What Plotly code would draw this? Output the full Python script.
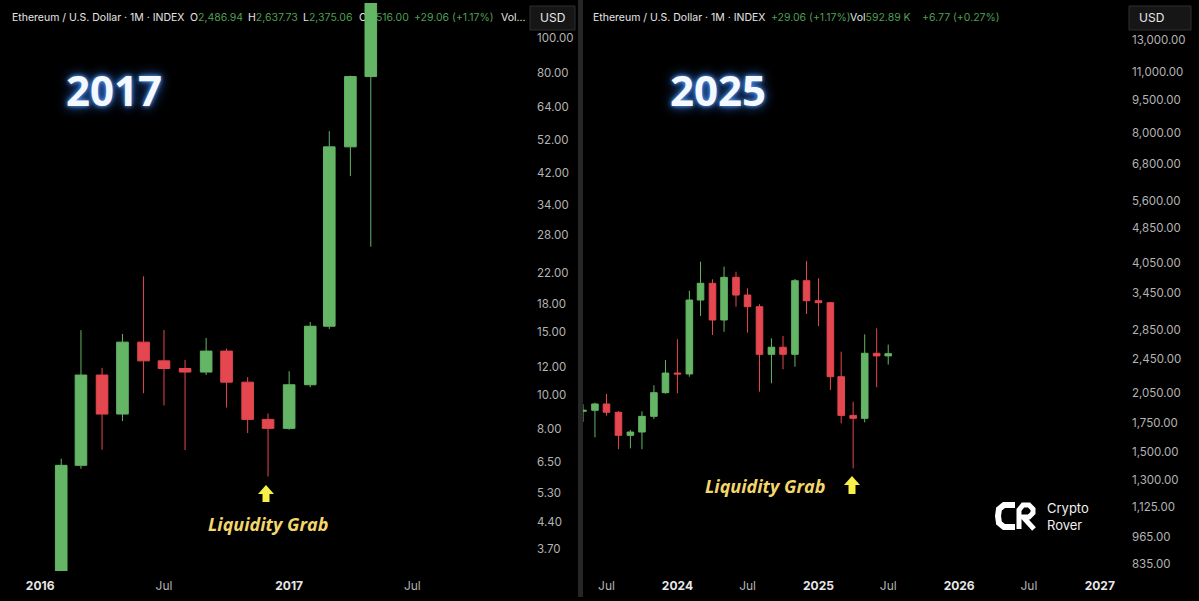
import plotly.graph_objects as go

W, H = 1199, 601

# ---------------- data: 2016-2017 panel (monthly ETH/USD) ----------------
left_dates = ["2016-02-01", "2016-03-01", "2016-04-01", "2016-05-01", "2016-06-01",
              "2016-07-01", "2016-08-01", "2016-09-01", "2016-10-01", "2016-11-01",
              "2016-12-01", "2017-01-01", "2017-02-01", "2017-03-01", "2017-04-01",
              "2017-05-01"]
left_open = [2.20, 6.34, 11.36, 8.83, 14.05, 12.45, 11.85, 11.58, 13.26, 10.85,
             8.53, 8.05, 10.67, 15.57, 49.6, 78.1]
left_high = [6.62, 15.18, 11.90, 14.82, 21.5, 15.2, 12.53, 14.44, 13.48, 11.21,
             8.86, 11.65, 16.01, 54.9, 78.6, 230.0]
left_low = [2.10, 6.20, 7.01, 8.44, 10.1, 9.33, 7.00, 11.36, 9.21, 7.81,
            5.90, 7.98, 10.5, 15.3, 41.06, 26.03]
left_close = [6.34, 11.36, 8.83, 14.05, 12.45, 11.85, 11.58, 13.26, 10.85, 8.53,
              8.05, 10.67, 15.57, 49.6, 78.1, 230.0]
left_ticks = [3.7, 4.4, 5.3, 6.5, 8, 10, 12, 15, 18, 22, 28, 34, 42, 52, 64, 80, 100]
left_xticks = ["2016-01-01", "2016-07-01", "2017-01-01", "2017-07-01"]
left_xlabels = ["2016", "Jul", "2017", "Jul"]

# ---------------- data: 2023-2025 panel (monthly ETH/USD) ----------------
right_dates = ["2023-05-01", "2023-06-01", "2023-07-01", "2023-08-01", "2023-09-01",
               "2023-10-01", "2023-11-01", "2023-12-01", "2024-01-01", "2024-02-01",
               "2024-03-01", "2024-04-01", "2024-05-01", "2024-06-01", "2024-07-01",
               "2024-08-01", "2024-09-01", "2024-10-01", "2024-11-01", "2024-12-01",
               "2025-01-01", "2025-02-01", "2025-03-01", "2025-04-01", "2025-05-01",
               "2025-06-01", "2025-07-01"]
right_open = [1860, 1870, 1933, 1851, 1640, 1669, 1812, 2051, 2273, 2262,
              3332, 3637, 3001, 3753, 3420, 3218, 2507, 2602, 2507, 3687,
              3320, 3286, 2230, 1821, 1793, 2521, 2486.94]
right_high = [1930, 1946, 2037, 1862, 1687, 1860, 2132, 2434, 2713, 3499,
              4073, 3714, 3967, 3864, 3543, 3260, 2727, 2760, 3720, 4089,
              3734, 3300, 2542, 1956, 2784, 2873, 2637.73]
right_low = [1760, 1623, 1818, 1525, 1532, 1525, 1786, 2040, 2044, 2230,
             3065, 2774, 2822, 3218, 2808, 2062, 2154, 2318, 2350, 3097,
             2908, 2080, 1747, 1380, 1756, 2110, 2375.06]
right_close = [1870, 1933, 1851, 1640, 1669, 1812, 2051, 2273, 2262, 3332,
               3637, 3001, 3753, 3420, 3218, 2507, 2602, 2507, 3687, 3320,
               3286, 2230, 1821, 1793, 2521, 2486.94, 2516.00]
right_ticks = [835, 965, 1125, 1300, 1500, 1750, 2050, 2450, 2850, 3450, 4050,
               4850, 5600, 6800, 8000, 9500, 11000, 13000]
right_xticks = ["2023-07-01", "2024-01-01", "2024-07-01", "2025-01-01", "2025-07-01",
                "2026-01-01", "2026-07-01", "2027-01-01"]
right_xlabels = ["Jul", "2024", "Jul", "2025", "Jul", "2026", "Jul", "2027"]

GREEN = "#64b565"
RED = "#e4474f"
HDR_GREEN = "#4f9f52"
AXIS_TXT = "#b4b4b4"
FONT = "Inter"


def px(x):
    return x / W


def py(y):
    return 1 - y / H


def xlabel(t):
    if t.isdigit():
        return "<span style='color:#e8e8e8'><b>%s</b></span>" % t
    return t


fig = go.Figure()
for dates, o, h, l, c, xa, ya in [
    (left_dates, left_open, left_high, left_low, left_close, "x", "y"),
    (right_dates, right_open, right_high, right_low, right_close, "x2", "y2"),
]:
    fig.add_trace(go.Candlestick(
        x=dates, open=o, high=h, low=l, close=c, xaxis=xa, yaxis=ya,
        increasing=dict(line=dict(color=GREEN, width=1), fillcolor=GREEN),
        decreasing=dict(line=dict(color=RED, width=1), fillcolor=RED),
        whiskerwidth=0, showlegend=False, hoverinfo="skip",
    ))

top, bot = 3, 571
ydom = [py(bot), py(top)]

axis_common = dict(showgrid=False, zeroline=False, showline=False, ticks="",
                   fixedrange=True)
ytick_font = dict(family=FONT, size=11.5, color=AXIS_TXT)
xtick_font = dict(family=FONT, size=12, color=AXIS_TXT)

fig.update_layout(
    width=W, height=H,
    margin=dict(l=0, r=0, t=0, b=0),
    paper_bgcolor="#000000", plot_bgcolor="rgba(0,0,0,0)",
    boxgap=0.13,
    font=dict(family=FONT, color="#d8d8d8"),
    xaxis=dict(domain=[0, px(530)], type="date",
               range=["2015-11-03", "2017-12-21"],
               tickvals=left_xticks, ticktext=[xlabel(t) for t in left_xlabels],
               tickfont=xtick_font, ticklabelstandoff=6,
               rangeslider=dict(visible=False), anchor="y", **axis_common),
    yaxis=dict(domain=ydom, type="log", side="right", anchor="x",
               range=[0.5057, 2.099], tickvals=left_ticks,
               ticktext=["%.2f" % v for v in left_ticks], ticklabelstandoff=6,
               tickfont=ytick_font, **axis_common),
    xaxis2=dict(domain=[px(583), px(1126)], type="date",
                range=["2023-05-01", "2027-03-10"],
                tickvals=right_xticks, ticktext=[xlabel(t) for t in right_xlabels],
                tickfont=xtick_font, ticklabelstandoff=6,
                rangeslider=dict(visible=False), anchor="y2", **axis_common),
    yaxis2=dict(domain=ydom, type="log", side="right", anchor="x2",
                range=[2.9063, 4.1984], tickvals=right_ticks,
                ticktext=["{:,.2f}".format(v) for v in right_ticks], ticklabelstandoff=5,
                tickfont=ytick_font, **axis_common),
)

shapes = []
annotations = []

WHITE_HDR = "#e6e6e6"
g = lambda s: "<span style='color:%s'>%s</span>" % (HDR_GREEN, s)
HDR_FONT = dict(family=FONT, size=10.5, color=WHITE_HDR)

# header segments (drawn below the candles, as in the reference)
left_header = [(9, "Ethereum / U.S. Dollar · 1M · INDEX"),
               (187, "O" + g("2,486.94")),
               (245, "H" + g("2,637.73")),
               (300, "L" + g("2,375.06")),
               (356, "C" + g("2,516.00")),
               (411, g("+29.06 (+1.17%)")),
               (498, "Vol...")]
right_header = [(590, "Ethereum / U.S. Dollar · 1M · INDEX"),
                (768, g("+29.06 (+1.17%)")),
                (847, "Vol" + g("592.89 K")),
                (919, g("+6.77 (+0.27%)"))]
for x0, txt in left_header + right_header:
    shapes.append(dict(type="rect", xref="paper", yref="paper", x0=px(x0), x1=px(x0 + 4),
                       y0=py(28), y1=py(6), line=dict(width=0), fillcolor="rgba(0,0,0,0)",
                       layer="below",
                       label=dict(text=txt, textposition="middle left", padding=0,
                                  font=HDR_FONT)))

# USD buttons
for x0, x1 in [(530, 575), (1129, 1191)]:
    shapes.append(dict(type="rect", xref="paper", yref="paper", x0=px(x0), x1=px(x1),
                       y0=py(30), y1=py(6), line=dict(color="#2e2e2e", width=1),
                       fillcolor="#161616", layer="above"))
    annotations.append(dict(xref="paper", yref="paper", x=px(x0 + 8), y=py(18),
                            xanchor="left", yanchor="middle", showarrow=False, text="USD",
                            font=dict(family=FONT, size=12, color="#e8e8e8")))

# panel separator
shapes.append(dict(type="rect", xref="paper", yref="paper", x0=px(578), x1=px(583),
                   y0=py(597), y1=py(0), line=dict(width=0), fillcolor="#262626",
                   layer="above"))

# big year titles
for txt, cx in [("2017", 114), ("2025", 718)]:
    annotations.append(dict(xref="paper", yref="paper", x=px(cx), y=py(90),
                            xanchor="center", yanchor="middle", showarrow=False,
                            text="<b>%s</b>" % txt,
                            font=dict(family="Open Sans", size=42, color="#f4f8ff",
                                      shadow="0px 0px 4px #6aaeff, 0px 0px 12px #2f7dff")))

# Liquidity Grab labels and arrows
YEL = "#f3d66c"
for cx, cy in [(268, 524), (765, 486)]:
    annotations.append(dict(xref="paper", yref="paper", x=px(cx), y=py(cy),
                            xanchor="center", yanchor="middle", showarrow=False,
                            text="<b><i>Liquidity Grab</i></b>",
                            font=dict(family="Open Sans", size=18, color=YEL)))
ARROW = "#f7f04a"
for cx, t, b in [(266, 485, 502), (852, 476, 494)]:
    pts = [(cx, t), (cx + 8, t + 9), (cx + 3.5, t + 9), (cx + 3.5, b), (cx - 3.5, b),
           (cx - 3.5, t + 9), (cx - 8, t + 9)]
    path = "M " + " L ".join("%.5f,%.5f" % (px(a), py(bb)) for a, bb in pts) + " Z"
    shapes.append(dict(type="path", xref="paper", yref="paper", path=path,
                       fillcolor=ARROW, line=dict(width=0), layer="above"))


# Crypto Rover logo
def pth(pts):
    return "M " + " L ".join("%.5f,%.5f" % (px(a), py(bb)) for a, bb in pts)


shapes.append(dict(type="path", xref="paper", yref="paper",
                   path=pth([(1015, 505), (1004, 505), (999, 509), (998, 516), (999, 523),
                             (1004, 527), (1015, 527)]),
                   line=dict(color="white", width=6), layer="above"))
shapes.append(dict(type="path", xref="paper", yref="paper",
                   path=pth([(1019, 529), (1019, 510), (1023, 505), (1029, 505),
                             (1033, 509), (1033, 513), (1029, 517), (1023, 517), (1034, 529)]),
                   line=dict(color="white", width=5), layer="above"))
annotations.append(dict(xref="paper", yref="paper", x=px(1045), y=py(516),
                        xanchor="left", yanchor="middle", showarrow=False, align="left",
                        text="Crypto<br>Rover",
                        font=dict(family=FONT, size=13, color="#f0f0f0")))

fig.update_layout(shapes=shapes, annotations=annotations)
fig.write_html("out.html", config={"displayModeBar": False},
               post_script="document.body.style.margin='0';"
                           "document.body.style.overflow='hidden';")
